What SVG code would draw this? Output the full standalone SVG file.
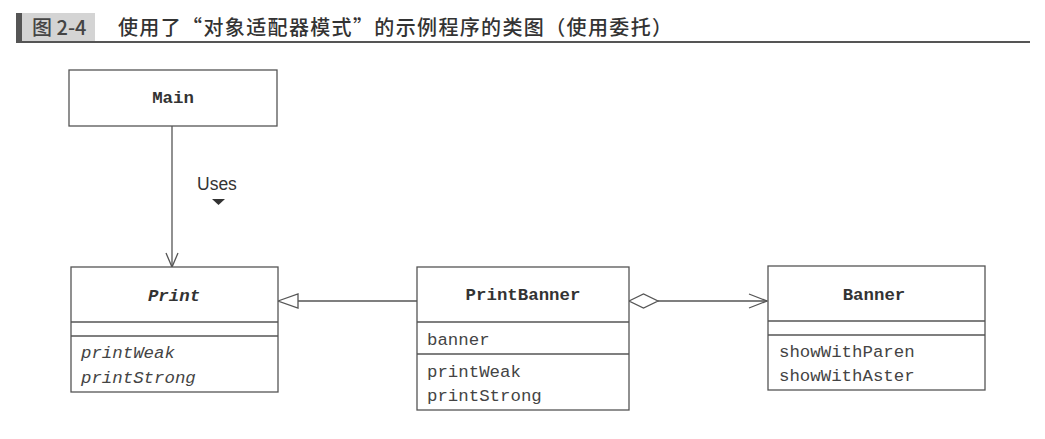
<svg xmlns="http://www.w3.org/2000/svg" width="1045" height="439" viewBox="0 0 1045 439">
<style>
.box{fill:#fff;stroke:#555;stroke-width:1.3}
.div{stroke:#555;stroke-width:1.3}
.cls{font-family:"Liberation Mono","DejaVu Sans Mono",monospace;font-weight:bold;font-size:17.4px;fill:#333;text-anchor:middle}
.mem{font-family:"Liberation Mono","DejaVu Sans Mono",monospace;font-size:17.4px;fill:#444}
.it{font-style:italic}
.conn{stroke:#555;stroke-width:1.3;fill:none}
</style>
<rect width="1045" height="439" fill="#fff"/>
<g id="title">
<rect x="16" y="13" width="79" height="29" fill="#d4d4d4"/>
<rect x="16" y="13" width="6" height="29" fill="#555"/>
<text x="32" y="35" font-family="'Noto Sans CJK SC',sans-serif" font-size="20" font-weight="500" fill="#444">图 2-4</text>
<text x="118" y="35" font-family="'Noto Sans CJK SC',sans-serif" font-size="20" font-weight="500" fill="#333" textLength="554" lengthAdjust="spacing">使用了“对象适配器模式”的示例程序的类图（使用委托）</text>
<line x1="16" y1="42" x2="1030" y2="42" stroke="#555" stroke-width="1.8"/>
</g>
<g id="connectors">
<line class="conn" x1="172" y1="126" x2="172" y2="266"/>
<polyline class="conn" points="166,253 172,267 178,253"/>
<text x="197" y="190" font-family="'Liberation Sans',Arial,sans-serif" font-size="17.5" fill="#333">Uses</text>
<polygon points="212,199 225,199 218.5,205" fill="#333"/>
<line class="conn" x1="298" y1="301" x2="417" y2="301"/>
<polygon class="conn" points="278,301 298,294 298,308" fill="#fff"/>
<line class="conn" x1="658" y1="301" x2="767" y2="301"/>
<polygon class="conn" points="629,301 643.5,294 658,301 643.5,308" fill="#fff"/>
<polyline class="conn" points="749,294 767,301 749,308"/>
</g>
<g id="Main">
<rect class="box" x="69" y="70" width="208" height="56"/>
<text class="cls" x="173" y="103">Main</text>
</g>
<g id="Print">
<rect class="box" x="71" y="267" width="207" height="125"/>
<line class="div" x1="71" y1="322" x2="278" y2="322"/>
<line class="div" x1="71" y1="336" x2="278" y2="336"/>
<text class="cls it" x="174" y="301">Print</text>
<text class="mem it" x="81" y="358">printWeak</text>
<text class="mem it" x="81" y="383">printStrong</text>
</g>
<g id="PrintBanner">
<rect class="box" x="417" y="267" width="212" height="143"/>
<line class="div" x1="417" y1="322" x2="629" y2="322"/>
<line class="div" x1="417" y1="354" x2="629" y2="354"/>
<text class="cls" x="523" y="300">PrintBanner</text>
<text class="mem" x="427" y="345">banner</text>
<text class="mem" x="427" y="377">printWeak</text>
<text class="mem" x="427" y="401">printStrong</text>
</g>
<g id="Banner">
<rect class="box" x="768" y="266" width="217" height="124"/>
<line class="div" x1="768" y1="321" x2="985" y2="321"/>
<line class="div" x1="768" y1="335" x2="985" y2="335"/>
<text class="cls" x="874" y="300">Banner</text>
<text class="mem" x="779" y="357">showWithParen</text>
<text class="mem" x="779" y="381">showWithAster</text>
</g>
</svg>
